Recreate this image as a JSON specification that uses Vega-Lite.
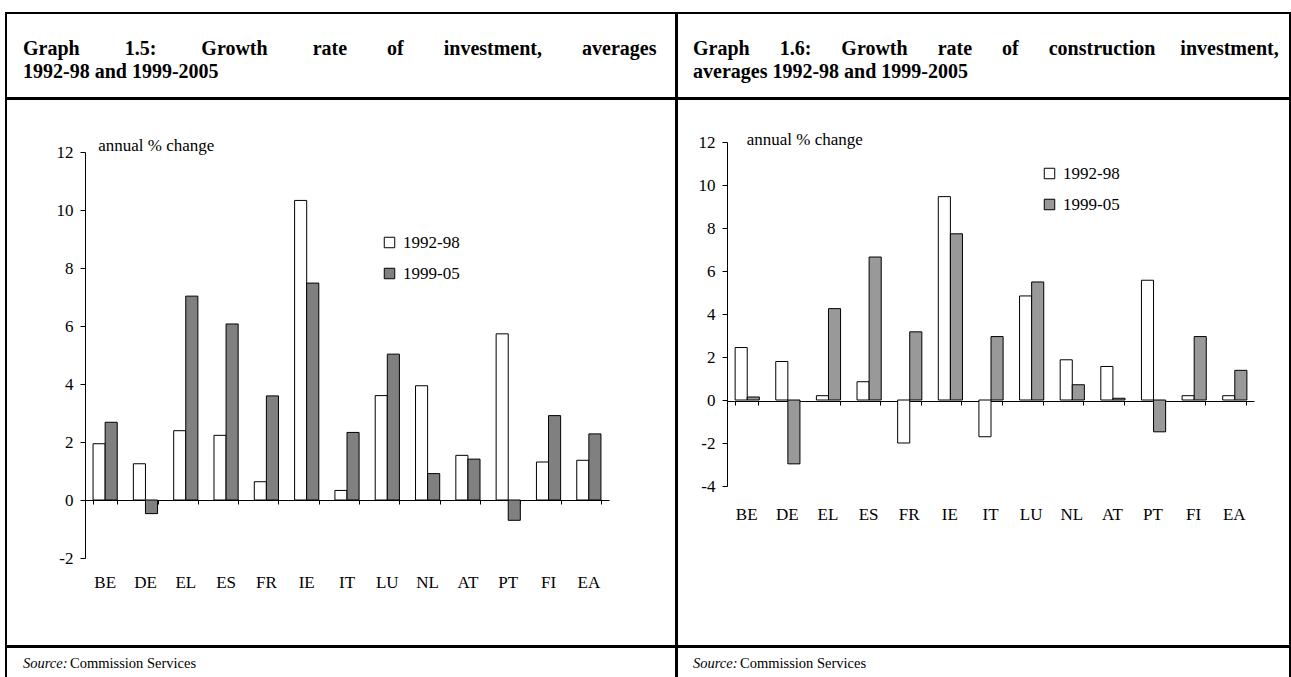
{
  "$schema": "https://vega.github.io/schema/vega-lite/v6.json",
  "padding": {"left": 5, "top": 12, "right": 0, "bottom": 0},
  "spacing": -2,
  "resolve": {"scale": {"color": "independent"}, "legend": {"color": "independent"}},
  "config": {
    "view": {"stroke": "black", "strokeWidth": 2},
    "font": "Liberation Serif",
    "axis": {"labelFont": "Liberation Serif", "labelFontSize": 17, "labelColor": "black", "domainColor": "black", "tickColor": "black", "grid": false, "title": null},
    "legend": {"labelFont": "Liberation Serif", "labelColor": "black"}
  },
  "datasets": {
    "inv": [
      {"country": "BE", "period": "1992-98", "value": 1.94}, {"country": "BE", "period": "1999-05", "value": 2.68},
      {"country": "DE", "period": "1992-98", "value": 1.25}, {"country": "DE", "period": "1999-05", "value": -0.47},
      {"country": "EL", "period": "1992-98", "value": 2.39}, {"country": "EL", "period": "1999-05", "value": 7.03},
      {"country": "ES", "period": "1992-98", "value": 2.23}, {"country": "ES", "period": "1999-05", "value": 6.07},
      {"country": "FR", "period": "1992-98", "value": 0.63}, {"country": "FR", "period": "1999-05", "value": 3.59},
      {"country": "IE", "period": "1992-98", "value": 10.33}, {"country": "IE", "period": "1999-05", "value": 7.48},
      {"country": "IT", "period": "1992-98", "value": 0.33}, {"country": "IT", "period": "1999-05", "value": 2.33},
      {"country": "LU", "period": "1992-98", "value": 3.6}, {"country": "LU", "period": "1999-05", "value": 5.03},
      {"country": "NL", "period": "1992-98", "value": 3.94}, {"country": "NL", "period": "1999-05", "value": 0.91},
      {"country": "AT", "period": "1992-98", "value": 1.54}, {"country": "AT", "period": "1999-05", "value": 1.41},
      {"country": "PT", "period": "1992-98", "value": 5.73}, {"country": "PT", "period": "1999-05", "value": -0.7},
      {"country": "FI", "period": "1992-98", "value": 1.31}, {"country": "FI", "period": "1999-05", "value": 2.91},
      {"country": "EA", "period": "1992-98", "value": 1.37}, {"country": "EA", "period": "1999-05", "value": 2.28}
    ],
    "cons": [
      {"country": "BE", "period": "1992-98", "value": 2.44}, {"country": "BE", "period": "1999-05", "value": 0.14},
      {"country": "DE", "period": "1992-98", "value": 1.79}, {"country": "DE", "period": "1999-05", "value": -2.97},
      {"country": "EL", "period": "1992-98", "value": 0.2}, {"country": "EL", "period": "1999-05", "value": 4.25},
      {"country": "ES", "period": "1992-98", "value": 0.85}, {"country": "ES", "period": "1999-05", "value": 6.65},
      {"country": "FR", "period": "1992-98", "value": -2.0}, {"country": "FR", "period": "1999-05", "value": 3.17},
      {"country": "IE", "period": "1992-98", "value": 9.46}, {"country": "IE", "period": "1999-05", "value": 7.73},
      {"country": "IT", "period": "1992-98", "value": -1.71}, {"country": "IT", "period": "1999-05", "value": 2.95},
      {"country": "LU", "period": "1992-98", "value": 4.84}, {"country": "LU", "period": "1999-05", "value": 5.49},
      {"country": "NL", "period": "1992-98", "value": 1.87}, {"country": "NL", "period": "1999-05", "value": 0.71},
      {"country": "AT", "period": "1992-98", "value": 1.56}, {"country": "AT", "period": "1999-05", "value": 0.08},
      {"country": "PT", "period": "1992-98", "value": 5.57}, {"country": "PT", "period": "1999-05", "value": -1.48},
      {"country": "FI", "period": "1992-98", "value": 0.2}, {"country": "FI", "period": "1999-05", "value": 2.95},
      {"country": "EA", "period": "1992-98", "value": 0.2}, {"country": "EA", "period": "1999-05", "value": 1.38}
    ]
  },
  "hconcat": [
    {
      "spacing": -2,
      "resolve": {"scale": {"color": "independent"}, "legend": {"color": "independent"}},
      "vconcat": [
        {
          "width": 670, "height": 85,
          "data": {"values": [
            {"row": 1, "line": "Graph\u00a0\u00a0\u00a0\u00a0\u00a0\u00a0\u00a0\u00a0\u00a01.5:\u00a0\u00a0\u00a0\u00a0\u00a0\u00a0\u00a0\u00a0\u00a0Growth\u00a0\u00a0\u00a0\u00a0\u00a0\u00a0\u00a0\u00a0\u00a0rate\u00a0\u00a0\u00a0\u00a0\u00a0\u00a0\u00a0\u00a0of\u00a0\u00a0\u00a0\u00a0\u00a0\u00a0\u00a0\u00a0investment,\u00a0\u00a0\u00a0\u00a0\u00a0\u00a0\u00a0\u00a0averages"},
            {"row": 2, "line": "1992-98 and 1999-2005"}
          ]},
          "mark": {"type": "text", "align": "left", "baseline": "middle", "fontSize": 20, "fontWeight": "bold", "font": "Liberation Serif", "color": "black"},
          "encoding": {
            "x": {"datum": 0, "type": "quantitative", "scale": {"domain": [0, 1], "range": [17, 670]}, "axis": null},
            "y": {"field": "row", "type": "ordinal", "scale": {"type": "point", "domain": [1, 2], "range": [36, 59], "padding": 0}, "axis": null},
            "text": {"field": "line"}
          }
        },
        {
          "width": 670, "height": 547,
          "data": {"name": "inv"},
          "resolve": {"axis": {"x": "independent"}},
          "layer": [
            {
              "mark": {"type": "bar", "stroke": "black", "strokeWidth": 1},
              "encoding": {
                "x": {"field": "country", "type": "nominal", "sort": null,
                      "scale": {"domain": ["BE","DE","EL","ES","FR","IE","IT","LU","NL","AT","PT","FI","EA"], "range": [79, 603], "paddingInner": 0.4, "paddingOuter": 0.2},
                      "axis": {"orient": "bottom", "offset": -146, "labels": false, "tickBand": "extent", "tickSize": 4}},
                "xOffset": {"field": "period", "type": "nominal", "sort": ["1992-98", "1999-05"]},
                "y": {"field": "value", "type": "quantitative",
                      "scale": {"domain": [-2, 12], "range": [459, 53], "nice": false, "zero": false},
                      "axis": {"offset": -79, "values": [-2, 0, 2, 4, 6, 8, 10, 12], "labelExpr": "datum.value", "tickSize": 5, "labelPadding": 7}},
                "color": {"field": "period", "type": "nominal",
                          "scale": {"domain": ["1992-98", "1999-05"], "range": ["#ffffff", "#808080"]},
                          "legend": {"orient": "none", "legendX": 375, "legendY": 135, "title": null, "symbolType": "square", "symbolSize": 110, "symbolStrokeColor": "black", "symbolStrokeWidth": 1, "labelFontSize": 17, "rowPadding": 13, "labelOffset": 5}}
              }
            },
            {
              "mark": {"type": "tick", "opacity": 0},
              "encoding": {
                "x": {"field": "country", "type": "nominal", "sort": null,
                      "axis": {"orient": "bottom", "offset": -72, "domain": false, "ticks": false, "tickSize": 0, "labelPadding": 0, "labelAngle": 0}}
              }
            },
            {
              "data": {"values": [{"t": "annual % change"}]},
              "mark": {"type": "text", "align": "left", "baseline": "middle", "dx": -7, "dy": -6, "fontSize": 17, "font": "Liberation Serif", "color": "black"},
              "encoding": {
                "x": {"datum": "BE", "type": "nominal", "axis": null},
                "y": {"datum": 12, "type": "quantitative"},
                "text": {"field": "t"}
              }
            }
          ]
        },
        {
          "width": 670, "height": 34,
          "layer": [
            {
              "data": {"values": [{"t": "Source:"}]},
              "mark": {"type": "text", "align": "left", "baseline": "middle", "fontSize": 14.5, "fontStyle": "italic", "font": "Liberation Serif", "color": "black"},
              "encoding": {
                "x": {"datum": 0, "type": "quantitative", "scale": {"domain": [0, 1], "range": [17, 670]}, "axis": null},
                "text": {"field": "t"}
              }
            },
            {
              "data": {"values": [{"t": "Commission Services"}]},
              "mark": {"type": "text", "align": "left", "baseline": "middle", "dx": 47, "fontSize": 14.5, "font": "Liberation Serif", "color": "black"},
              "encoding": {
                "x": {"datum": 0, "type": "quantitative", "axis": null},
                "text": {"field": "t"}
              }
            }
          ]
        }
      ]
    },
    {
      "spacing": -2,
      "resolve": {"scale": {"color": "independent"}, "legend": {"color": "independent"}},
      "vconcat": [
        {
          "width": 613, "height": 85,
          "data": {"values": [
            {"row": 1, "line": "Graph\u00a0\u00a0\u00a0\u00a0\u00a0\u00a01.6:\u00a0\u00a0\u00a0\u00a0\u00a0\u00a0Growth\u00a0\u00a0\u00a0\u00a0\u00a0\u00a0rate\u00a0\u00a0\u00a0\u00a0\u00a0\u00a0of\u00a0\u00a0\u00a0\u00a0\u00a0\u00a0construction\u00a0\u00a0\u00a0\u00a0\u00a0investment,"},
            {"row": 2, "line": "averages 1992-98 and 1999-2005"}
          ]},
          "mark": {"type": "text", "align": "left", "baseline": "middle", "fontSize": 20, "fontWeight": "bold", "font": "Liberation Serif", "color": "black"},
          "encoding": {
            "x": {"datum": 0, "type": "quantitative", "scale": {"domain": [0, 1], "range": [16, 613]}, "axis": null},
            "y": {"field": "row", "type": "ordinal", "scale": {"type": "point", "domain": [1, 2], "range": [36, 59], "padding": 0}, "axis": null},
            "text": {"field": "line"}
          }
        },
        {
          "width": 613, "height": 547,
          "data": {"name": "cons"},
          "resolve": {"axis": {"x": "independent"}},
          "layer": [
            {
              "mark": {"type": "bar", "stroke": "black", "strokeWidth": 1},
              "encoding": {
                "x": {"field": "country", "type": "nominal", "sort": null,
                      "scale": {"domain": ["BE","DE","EL","ES","FR","IE","IT","LU","NL","AT","PT","FI","EA"], "range": [50, 577], "paddingInner": 0.43, "paddingOuter": 0.2},
                      "axis": {"orient": "bottom", "offset": -245, "labels": false, "tickBand": "extent", "tickSize": 4}},
                "xOffset": {"field": "period", "type": "nominal", "sort": ["1992-98", "1999-05"]},
                "y": {"field": "value", "type": "quantitative",
                      "scale": {"domain": [-4, 12], "range": [387, 43], "nice": false, "zero": false},
                      "axis": {"offset": -50, "values": [-4, -2, 0, 2, 4, 6, 8, 10, 12], "labelExpr": "datum.value", "tickSize": 5, "labelPadding": 7}},
                "color": {"field": "period", "type": "nominal",
                          "scale": {"domain": ["1992-98", "1999-05"], "range": ["#ffffff", "#999999"]},
                          "legend": {"orient": "none", "legendX": 364, "legendY": 66, "title": null, "symbolType": "square", "symbolSize": 110, "symbolStrokeColor": "black", "symbolStrokeWidth": 1, "labelFontSize": 17, "rowPadding": 13, "labelOffset": 5}}
              }
            },
            {
              "mark": {"type": "tick", "opacity": 0},
              "encoding": {
                "x": {"field": "country", "type": "nominal", "sort": null,
                      "axis": {"orient": "bottom", "offset": -140, "domain": false, "ticks": false, "tickSize": 0, "labelPadding": 0, "labelAngle": 0}}
              }
            },
            {
              "data": {"values": [{"t": "annual % change"}]},
              "mark": {"type": "text", "align": "left", "baseline": "middle", "dx": 0, "dy": -2, "fontSize": 17, "font": "Liberation Serif", "color": "black"},
              "encoding": {
                "x": {"datum": "BE", "type": "nominal", "axis": null},
                "y": {"datum": 12, "type": "quantitative"},
                "text": {"field": "t"}
              }
            }
          ]
        },
        {
          "width": 613, "height": 34,
          "layer": [
            {
              "data": {"values": [{"t": "Source:"}]},
              "mark": {"type": "text", "align": "left", "baseline": "middle", "fontSize": 14.5, "fontStyle": "italic", "font": "Liberation Serif", "color": "black"},
              "encoding": {
                "x": {"datum": 0, "type": "quantitative", "scale": {"domain": [0, 1], "range": [16, 613]}, "axis": null},
                "text": {"field": "t"}
              }
            },
            {
              "data": {"values": [{"t": "Commission Services"}]},
              "mark": {"type": "text", "align": "left", "baseline": "middle", "dx": 47, "fontSize": 14.5, "font": "Liberation Serif", "color": "black"},
              "encoding": {
                "x": {"datum": 0, "type": "quantitative", "axis": null},
                "text": {"field": "t"}
              }
            }
          ]
        }
      ]
    }
  ]
}
